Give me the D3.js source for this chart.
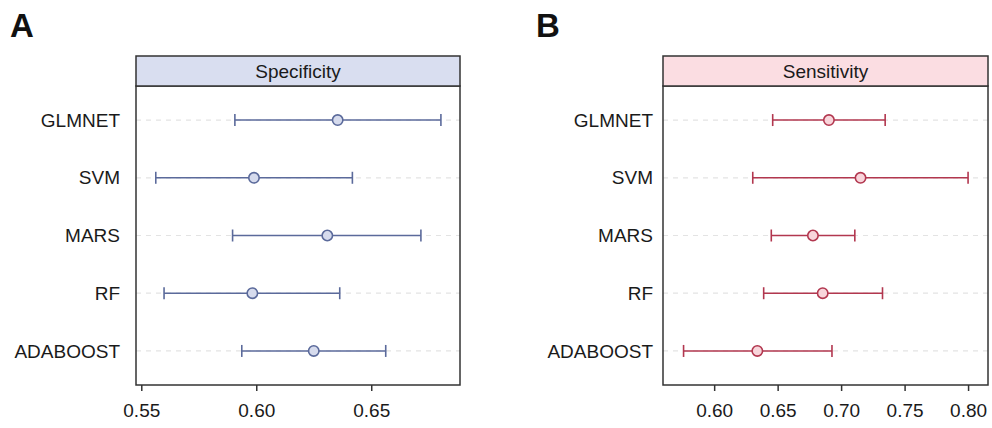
<!DOCTYPE html>
<html>
<head>
<meta charset="utf-8">
<script src="https://cdn.jsdelivr.net/npm/d3@7"></script>
<style>
  html, body { margin: 0; padding: 0; background: #fff; }
  svg { display: block; font-family: "Liberation Sans", Arial, Helvetica, sans-serif; }
</style>
</head>
<body>
<svg id="chart" width="992" height="428"></svg>
<script>
// Models, top to bottom
const models = ["GLMNET", "SVM", "MARS", "RF", "ADABOOST"];

// Specificity: point estimate with lower / upper interval bounds
const specEst   = [0.6354, 0.5990, 0.6309, 0.5983, 0.6250];
const specLower = [0.5907, 0.5563, 0.5897, 0.5599, 0.5937];
const specUpper = [0.6803, 0.6418, 0.6716, 0.6363, 0.6563];

// Sensitivity: point estimate with lower / upper interval bounds
const sensEst   = [0.6904, 0.7153, 0.6778, 0.6855, 0.6340];
const sensLower = [0.6461, 0.6304, 0.6450, 0.6390, 0.5759];
const sensUpper = [0.7347, 0.8000, 0.7108, 0.7326, 0.6928];

// Axis ticks
const specTicks = [0.55, 0.60, 0.65];
const sensTicks = [0.60, 0.65, 0.70, 0.75, 0.80];

const svg = d3.select("#chart");

const panels = [
  {
    tag: "A", title: "Specificity",
    est: specEst, lo: specLower, hi: specUpper, ticks: specTicks,
    domain: [0.5477, 0.6886],
    left: 136, right: 460, tagX: 10, labelGap: 16,
    stroke: "#5b6a9b", fill: "#d6dbed", strip: "#d9def0"
  },
  {
    tag: "B", title: "Sensitivity",
    est: sensEst, lo: sensLower, hi: sensUpper, ticks: sensTicks,
    domain: [0.5597, 0.8157],
    left: 663, right: 988, tagX: 536, labelGap: 10,
    stroke: "#b2374f", fill: "#f8d5db", strip: "#fbdde2"
  }
];

const stripTop = 56, stripBottom = 86, panelBottom = 385;

panels.forEach(p => {
  const g = svg.append("g");

  const x = d3.scaleLinear().domain(p.domain).range([p.left, p.right]);
  const y = d3.scalePoint().domain(models).range([stripBottom, panelBottom]).padding(0.59);

  const rows = models.map((m, i) => ({ model: m, est: p.est[i], lo: p.lo[i], hi: p.hi[i] }));

  // Panel tag
  g.append("text")
    .attr("x", p.tagX).attr("y", 37)
    .attr("font-size", 33).attr("font-weight", "bold").attr("fill", "#111")
    .text(p.tag);

  // Dashed horizontal guides
  g.selectAll("line.guide").data(models).join("line")
    .attr("class", "guide")
    .attr("x1", p.left).attr("x2", p.right)
    .attr("y1", d => y(d)).attr("y2", d => y(d))
    .attr("stroke", "#e3e3e3").attr("stroke-width", 1.2)
    .attr("stroke-dasharray", "5,5");

  // Interval lines
  g.selectAll("line.ci").data(rows).join("line")
    .attr("class", "ci")
    .attr("x1", d => x(d.lo)).attr("x2", d => x(d.hi))
    .attr("y1", d => y(d.model)).attr("y2", d => y(d.model))
    .attr("stroke", p.stroke).attr("stroke-width", 1.6);

  // Interval caps
  ["lo", "hi"].forEach(k => {
    g.selectAll("line.cap-" + k).data(rows).join("line")
      .attr("class", "cap-" + k)
      .attr("x1", d => x(d[k])).attr("x2", d => x(d[k]))
      .attr("y1", d => y(d.model) - 6).attr("y2", d => y(d.model) + 6)
      .attr("stroke", p.stroke).attr("stroke-width", 1.6);
  });

  // Point estimates
  g.selectAll("circle.est").data(rows).join("circle")
    .attr("class", "est")
    .attr("cx", d => x(d.est)).attr("cy", d => y(d.model))
    .attr("r", 5.2)
    .attr("fill", p.fill).attr("stroke", p.stroke).attr("stroke-width", 1.6);

  // Panel frame
  g.append("rect")
    .attr("x", p.left).attr("y", stripBottom)
    .attr("width", p.right - p.left).attr("height", panelBottom - stripBottom)
    .attr("fill", "none").attr("stroke", "#333").attr("stroke-width", 1.5);

  // Strip with title
  g.append("rect")
    .attr("x", p.left).attr("y", stripTop)
    .attr("width", p.right - p.left).attr("height", stripBottom - stripTop)
    .attr("fill", p.strip).attr("stroke", "#333").attr("stroke-width", 1.5);
  g.append("text")
    .attr("x", (p.left + p.right) / 2).attr("y", 78)
    .attr("text-anchor", "middle")
    .attr("font-size", 19).attr("fill", "#1a1a1a")
    .text(p.title);

  // Model labels
  g.selectAll("text.model").data(models).join("text")
    .attr("class", "model")
    .attr("x", p.left - p.labelGap).attr("y", d => y(d))
    .attr("dy", "0.35em")
    .attr("text-anchor", "end")
    .attr("font-size", 19).attr("fill", "#1a1a1a")
    .text(d => d);

  // Bottom axis
  const axis = d3.axisBottom(x)
    .tickValues(p.ticks)
    .tickFormat(d3.format(".2f"))
    .tickSize(6)
    .tickPadding(13);
  const ax = g.append("g")
    .attr("transform", `translate(0,${panelBottom})`)
    .call(axis);
  ax.select(".domain").remove();
  ax.selectAll(".tick line").attr("stroke", "#333").attr("stroke-width", 1.5);
  ax.selectAll(".tick text")
    .attr("font-size", 19).attr("fill", "#1a1a1a")
    .attr("font-family", "'Liberation Sans', Arial, Helvetica, sans-serif");
});
</script>
</body>
</html>
